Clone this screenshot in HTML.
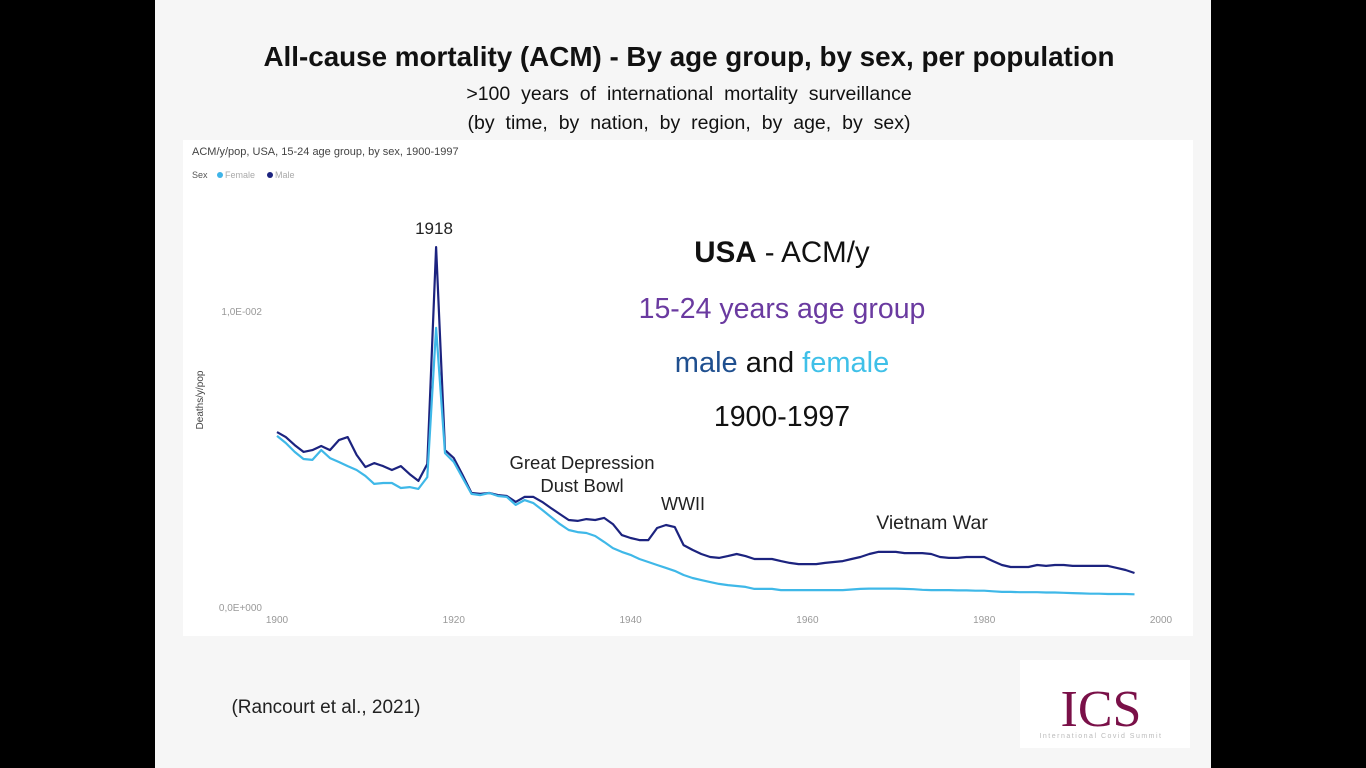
<!DOCTYPE html>
<html><head><meta charset="utf-8"><style>
html,body{margin:0;padding:0;background:#000;width:1366px;height:768px;overflow:hidden}
svg{display:block;font-family:"Liberation Sans",sans-serif}
</style></head><body>
<svg id="s" width="1366" height="768" viewBox="0 0 1366 768">
<rect x="0" y="0" width="1366" height="768" fill="#000"/>
<rect x="155" y="0" width="1056" height="768" fill="#f6f6f6"/>
<rect x="183" y="140" width="1010" height="496" fill="#ffffff"/>
<text x="689" y="66" text-anchor="middle" font-size="27.8" font-weight="bold" fill="#111">All-cause mortality (ACM)  -  By age group, by sex, per population</text>
<text x="689" y="100" text-anchor="middle" font-size="19.5" fill="#111" word-spacing="5.5">&gt;100 years of international mortality surveillance</text>
<text x="689" y="129" text-anchor="middle" font-size="19.5" fill="#111" word-spacing="5.5">(by time, by nation, by region, by age, by sex)</text>
<text x="192" y="155" font-size="11" fill="#444">ACM/y/pop, USA, 15-24 age group, by sex, 1900-1997</text>
<g>
<text x="192" y="178" font-size="9" fill="#555">Sex</text>
<circle cx="220" cy="175" r="3" fill="#3fb4e8"/>
<text x="225" y="178" font-size="9" fill="#aaa">Female</text>
<circle cx="270" cy="175" r="3" fill="#1c237f"/>
<text x="275" y="178" font-size="9" fill="#aaa">Male</text>
</g>
<text transform="translate(203,400) rotate(-90)" text-anchor="middle" font-size="10" fill="#444">Deaths/y/pop</text>
<g id="yt"></g>
<g id="xt"></g>
<g id="lines"></g>
<text x="434" y="234" text-anchor="middle" font-size="17" fill="#222">1918</text>
<text x="582" y="469" text-anchor="middle" font-size="18.5" fill="#222">Great Depression</text>
<text x="582" y="492" text-anchor="middle" font-size="18.5" fill="#222">Dust Bowl</text>
<text x="683" y="510" text-anchor="middle" font-size="18" fill="#222">WWII</text>
<text x="932" y="529" text-anchor="middle" font-size="19.5" fill="#222">Vietnam War</text>
<text x="782" y="262" text-anchor="middle" font-size="29.5" fill="#111"><tspan font-weight="bold">USA</tspan>  -  ACM/y</text>
<text x="782" y="318" text-anchor="middle" font-size="28.5" fill="#6a3aa0">15-24 years age group</text>
<text x="782" y="372" text-anchor="middle" font-size="29" fill="#111"><tspan fill="#1f4f8f">male</tspan> and <tspan fill="#3fc0e8">female</tspan></text>
<text x="782" y="426" text-anchor="middle" font-size="28.5" fill="#111">1900-1997</text>
<text x="326" y="713" text-anchor="middle" font-size="19" fill="#222">(Rancourt et al., 2021)</text>
<g>
<rect x="1020" y="660" width="170" height="88" fill="#fff"/>
<text x="1101" y="726" text-anchor="middle" font-family="Liberation Serif,serif" font-size="52" fill="#7a1048">ICS</text>
<text x="1101" y="738" text-anchor="middle" font-size="7" fill="#bbb" letter-spacing="1.5">International Covid Summit</text>
</g>
</svg>
<script>
const years = Array.from({length:98},(_, i)=>1900+i);
const male = [5.91,5.74,5.47,5.24,5.30,5.44,5.30,5.64,5.74,5.14,
4.73,4.86,4.76,4.63,4.76,4.49,4.26,4.83,12.16,5.30,
5.03,4.46,3.85,3.82,3.85,3.78,3.75,3.55,3.72,3.72,
3.55,3.34,3.14,2.94,2.91,2.97,2.94,3.01,2.80,2.43,
2.33,2.26,2.26,2.67,2.77,2.70,2.09,1.93,1.79,1.69,
1.66,1.72,1.79,1.72,1.62,1.62,1.62,1.55,1.49,1.45,
1.45,1.45,1.49,1.52,1.55,1.62,1.69,1.79,1.86,1.86,
1.86,1.82,1.82,1.82,1.79,1.69,1.66,1.66,1.69,1.69,
1.69,1.55,1.42,1.35,1.35,1.35,1.42,1.39,1.42,1.42,
1.39,1.39,1.39,1.39,1.39,1.32,1.25,1.15];
const female = [5.78,5.54,5.24,5.00,4.97,5.30,5.03,4.90,4.76,4.63,
4.43,4.16,4.19,4.19,4.02,4.05,3.99,4.39,9.43,5.20,
4.90,4.36,3.82,3.78,3.85,3.75,3.72,3.45,3.61,3.51,
3.28,3.04,2.80,2.60,2.53,2.50,2.40,2.20,1.99,1.86,
1.76,1.62,1.52,1.42,1.32,1.22,1.08,0.98,0.91,0.84,
0.78,0.74,0.71,0.68,0.61,0.61,0.61,0.57,0.57,0.57,
0.57,0.57,0.57,0.57,0.57,0.59,0.61,0.62,0.62,0.62,
0.62,0.61,0.60,0.58,0.57,0.57,0.57,0.56,0.56,0.55,
0.55,0.53,0.51,0.51,0.50,0.50,0.50,0.49,0.49,0.48,
0.47,0.46,0.45,0.45,0.44,0.44,0.44,0.43];
const xTicks = [1900,1920,1940,1960,1980,2000];
const yTicks = [0,10];
const yTickLabels = ["0,0E+000","1,0E-002"];
const NS="http://www.w3.org/2000/svg";
const xs = y => 277 + (y-1900)*8.84;
const ys = v => 607 - v*29.6;
function mk(tag, attrs, txt){const e=document.createElementNS(NS,tag);for(const k in attrs)e.setAttribute(k,attrs[k]);if(txt!==undefined)e.textContent=txt;return e;}
const xt=document.getElementById('xt'), yt=document.getElementById('yt'), lg=document.getElementById('lines');
xTicks.forEach(t=>{
  const e=mk('text',{x:xs(t),y:623,'text-anchor':'middle','font-size':10,fill:'#999'},t);
  
  
  xt.appendChild(e);
});
yTicks.forEach((t,i)=>{
  const e=mk('text',{x:262,y:ys(t)+4,'text-anchor':'end','font-size':10,fill:'#999'},yTickLabels[i]);
  
  
  yt.appendChild(e);
});
function line(arr){
  return years.map((y,i)=>(i?'L':'M')+xs(y).toFixed(1)+','+ys(arr[i]).toFixed(1)).join('');
}
const pm=mk('path',{d:line(male),fill:'none',stroke:'#1c237f','stroke-width':2.2,'stroke-linejoin':'round'});


const pf=mk('path',{d:line(female),fill:'none',stroke:'#3fb8e8','stroke-width':2.2,'stroke-linejoin':'round'});


lg.appendChild(pm);
lg.appendChild(pf);
</script>
</body></html>
